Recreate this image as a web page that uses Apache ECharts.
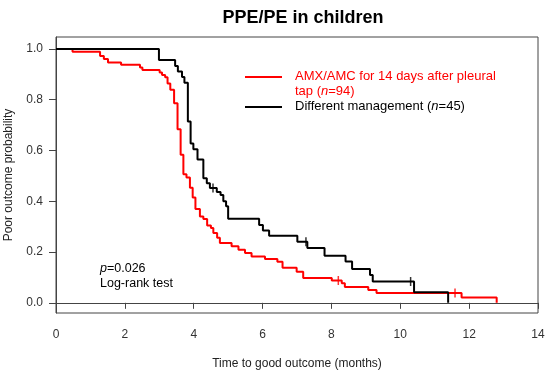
<!DOCTYPE html>
<html>
<head>
<meta charset="utf-8">
<script src="https://cdn.jsdelivr.net/npm/echarts@6/dist/echarts.min.js"></script>
<style>html,body{margin:0;padding:0;background:#fff}#c{width:550px;height:376px}</style>
</head>
<body>
<div id="c"></div>
<script>
// Red group: AMX/AMC for 14 days after pleural tap (n=94)
const redT = [0,0.48,1.28,1.39,1.51,1.89,2.44,2.51,3.01,3.08,3.17,3.24,3.32,3.43,3.53,3.62,3.70,3.79,3.89,3.97,4.05,4.18,4.28,4.39,4.50,4.57,4.68,4.76,5.10,5.30,5.49,5.68,6.07,6.43,6.58,6.99,7.18,8.01,8.30,8.39,9.07,9.31,11.78,12.80];
const redS = [1,0.989,0.972,0.960,0.947,0.938,0.927,0.917,0.907,0.897,0.888,0.864,0.839,0.786,0.684,0.583,0.506,0.494,0.453,0.415,0.370,0.340,0.330,0.305,0.295,0.275,0.256,0.236,0.223,0.209,0.196,0.183,0.173,0.162,0.138,0.122,0.098,0.088,0.077,0.062,0.051,0.039,0.021,0];
const redCensorT = [8.20, 11.59];
const redCensorS = [0.088, 0.039];
// Black group: Different management (n=45)
const blackT = [0,2.99,3.46,3.54,3.66,3.73,3.83,3.91,3.99,4.11,4.28,4.38,4.47,4.67,4.78,4.86,4.94,5.00,5.90,6.01,6.19,7.01,7.30,7.80,8.41,8.60,9.12,9.20,10.40,11.39];
const blackS = [1,0.956,0.933,0.911,0.889,0.867,0.714,0.628,0.605,0.565,0.491,0.471,0.452,0.437,0.425,0.400,0.380,0.331,0.307,0.285,0.264,0.241,0.216,0.185,0.163,0.133,0.110,0.084,0.042,0];
const blackCensorT = [4.56, 7.26, 10.30];
const blackCensorS = [0.452, 0.241, 0.084];
const xTicks = [0,2,4,6,8,10,12,14];
const yTicks = [0,0.2,0.4,0.6,0.8,1.0];

const zip = (a,b) => a.map((v,i)=>[v,b[i]]);
const FONT = 'Liberation Sans, Arial, sans-serif';
const chart = echarts.init(document.getElementById('c'), null, {renderer:'canvas'});
chart.setOption({
  animation:false,
  backgroundColor:'#fff',
  title:{text:'PPE/PE in children', left:298, top:4, textAlign:'center',
    textStyle:{fontFamily:FONT, fontSize:18, fontWeight:'bold', color:'#000'}},
  grid:{left:56, top:37, right:12, bottom:63, show:true, borderColor:'#444', borderWidth:1,
    containLabel:false, outerBoundsMode:'none'},
  xAxis:{type:'value', min:0, max:14, interval:2,
    name:'Time to good outcome (months)', nameLocation:'middle', nameGap:45,
    nameTextStyle:{fontFamily:FONT, fontSize:12, color:'#222'},
    axisLine:{show:true, lineStyle:{color:'#444'}},
    axisTick:{show:true, length:6, lineStyle:{color:'#444'}, customValues:xTicks},
    axisLabel:{fontFamily:FONT, fontSize:12, color:'#333', margin:16, customValues:xTicks},
    splitLine:{show:false}},
  yAxis:{type:'value', min:-0.04, max:1.047,
    name:'Poor outcome probability', nameLocation:'middle', nameGap:41,
    nameTextStyle:{fontFamily:FONT, fontSize:12, color:'#222'},
    axisLine:{show:true, lineStyle:{color:'#444'}},
    axisTick:{show:true, length:7, lineStyle:{color:'#444'}, customValues:yTicks},
    axisLabel:{fontFamily:FONT, fontSize:12, color:'#333', margin:13, customValues:yTicks,
      formatter:v=>Number(v).toFixed(1)},
    splitLine:{show:false}},
  series:[
    {type:'line', step:'end', data:zip(redT,redS), symbol:'none', lineStyle:{color:'#ff0000', width:2}, z:2},
    {type:'line', step:'end', data:zip(blackT,blackS), symbol:'none', lineStyle:{color:'#000', width:2}, z:3},
    {type:'scatter', data:zip(redCensorT,redCensorS), symbol:'rect', symbolSize:[1.5,9], itemStyle:{color:'#ff0000'}, z:4},
    {type:'scatter', data:zip(blackCensorT,blackCensorS), symbol:'rect', symbolSize:[1.5,9], itemStyle:{color:'#000'}, z:4}
  ],
  graphic:[
    {type:'line', shape:{x1:245,y1:77,x2:282,y2:77}, style:{stroke:'#ff0000', lineWidth:2}},
    {type:'line', shape:{x1:245,y1:107,x2:282,y2:107}, style:{stroke:'#000', lineWidth:2}},
    {type:'text', left:295, top:70, style:{text:'AMX/AMC for 14 days after pleural', fill:'#ff0000', font:'13px '+FONT}},
    {type:'text', left:295, top:85, style:{text:'{a|tap (}{i|n}{a|=94)}', rich:{a:{fill:'#ff0000', font:'13px '+FONT}, i:{fill:'#ff0000', font:'italic 13px '+FONT}}}},
    {type:'text', left:295, top:100, style:{text:'{a|Different management (}{i|n}{a|=45)}', rich:{a:{fill:'#000', font:'13px '+FONT}, i:{fill:'#000', font:'italic 13px '+FONT}}}},
    {type:'text', left:100, top:262, style:{text:'{i|p}{a|=0.026}', rich:{a:{fill:'#000', font:'12.5px '+FONT}, i:{fill:'#000', font:'italic 12.5px '+FONT}}}},
    {type:'text', left:100, top:277, style:{text:'Log-rank test', fill:'#000', font:'12.5px '+FONT}}
  ]
});
</script>
</body>
</html>
